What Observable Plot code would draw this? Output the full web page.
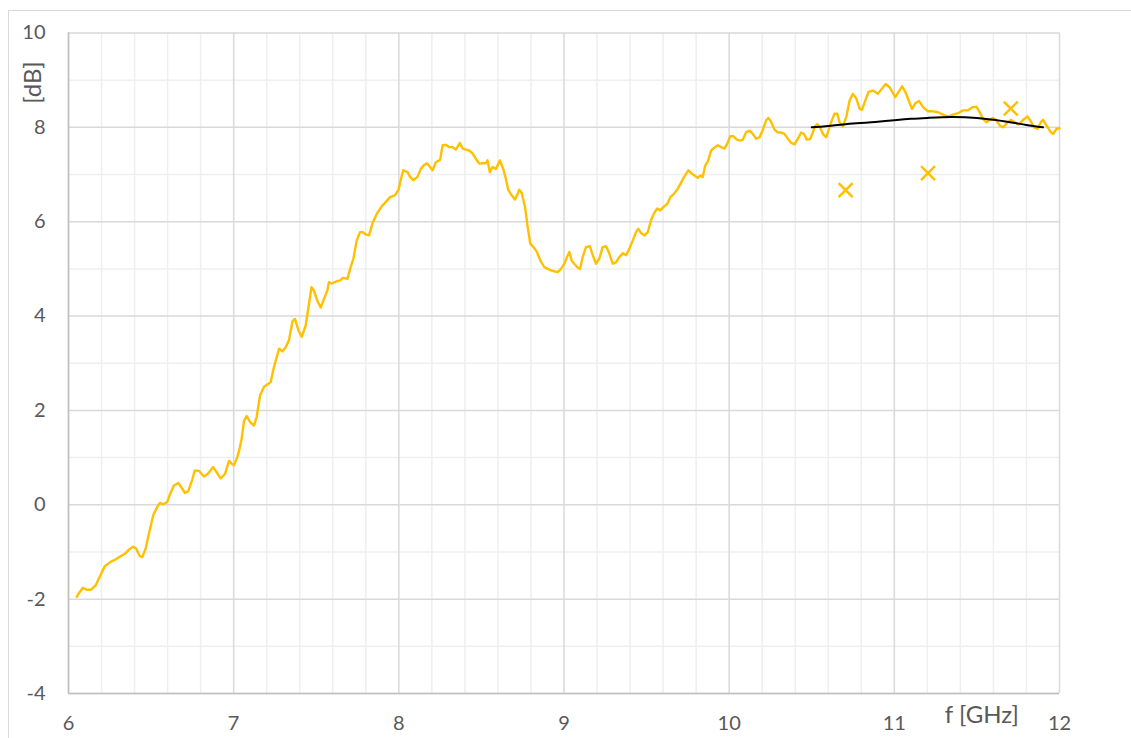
<!DOCTYPE html>
<html>
<head>
<meta charset="utf-8">
<script src="https://cdn.jsdelivr.net/npm/d3@7"></script>
<script src="https://cdn.jsdelivr.net/npm/@observablehq/plot@0.6"></script>
<style>
  html, body { margin: 0; padding: 0; background: #fff; }
  #wrap { position: relative; width: 1131px; height: 738px; overflow: hidden; background: #fff; }
  #frame { position: absolute; left: 8px; top: 10px; width: 1200px; height: 800px; border: 1px solid #d9d9d9; box-sizing: border-box; }
  #chart { position: absolute; left: 0; top: 0; }
</style>
</head>
<body>
<div id="wrap"><div id="frame"></div><div id="chart"></div></div>
<script>
// Measured gain [dB] versus frequency [GHz]
const freq = [
  6.050, 6.062, 6.087, 6.109, 6.137, 6.164, 6.194, 6.220, 6.255, 6.285,
  6.315, 6.345, 6.366, 6.390, 6.410, 6.432, 6.447, 6.467, 6.487, 6.513,
  6.537, 6.553, 6.574, 6.598, 6.612, 6.638, 6.665, 6.689, 6.705, 6.725,
  6.749, 6.765, 6.789, 6.820, 6.847, 6.875, 6.895, 6.921, 6.947, 6.972,
  6.988, 7.002, 7.022, 7.036, 7.048, 7.063, 7.079, 7.100, 7.123, 7.139,
  7.160, 7.184, 7.204, 7.224, 7.244, 7.261, 7.275, 7.295, 7.315, 7.335,
  7.356, 7.371, 7.392, 7.412, 7.436, 7.456, 7.471, 7.486, 7.506, 7.527,
  7.551, 7.567, 7.577, 7.594, 7.612, 7.628, 7.648, 7.659, 7.679, 7.689,
  7.705, 7.725, 7.745, 7.765, 7.780, 7.800, 7.820, 7.840, 7.867, 7.891,
  7.921, 7.947, 7.976, 7.998, 8.012, 8.026, 8.053, 8.068, 8.087, 8.113,
  8.133, 8.150, 8.170, 8.184, 8.204, 8.224, 8.250, 8.265, 8.285, 8.305,
  8.325, 8.345, 8.370, 8.386, 8.406, 8.426, 8.446, 8.467, 8.487, 8.507,
  8.527, 8.537, 8.551, 8.567, 8.588, 8.612, 8.632, 8.648, 8.662, 8.683,
  8.703, 8.719, 8.729, 8.744, 8.764, 8.780, 8.796, 8.816, 8.836, 8.856,
  8.880, 8.901, 8.921, 8.941, 8.962, 8.982, 9.002, 9.018, 9.032, 9.046,
  9.062, 9.079, 9.097, 9.113, 9.133, 9.157, 9.174, 9.194, 9.214, 9.234,
  9.255, 9.275, 9.295, 9.315, 9.335, 9.356, 9.376, 9.396, 9.416, 9.436,
  9.450, 9.467, 9.487, 9.507, 9.527, 9.544, 9.564, 9.584, 9.604, 9.624,
  9.644, 9.665, 9.689, 9.709, 9.729, 9.753, 9.770, 9.790, 9.810, 9.826,
  9.840, 9.855, 9.871, 9.891, 9.911, 9.931, 9.952, 9.972, 9.988, 10.006,
  10.026, 10.047, 10.068, 10.083, 10.103, 10.123, 10.143, 10.164, 10.184, 10.204,
  10.224, 10.238, 10.255, 10.275, 10.295, 10.315, 10.335, 10.355, 10.376, 10.396,
  10.416, 10.436, 10.453, 10.470, 10.490, 10.505, 10.518, 10.533, 10.553, 10.570,
  10.588, 10.614, 10.638, 10.655, 10.668, 10.689, 10.709, 10.729, 10.749, 10.770,
  10.790, 10.804, 10.820, 10.844, 10.870, 10.900, 10.921, 10.947, 10.971, 11.006,
  11.026, 11.047, 11.067, 11.087, 11.107, 11.127, 11.149, 11.174, 11.204, 11.234,
  11.265, 11.295, 11.325, 11.355, 11.386, 11.416, 11.446, 11.476, 11.497, 11.517,
  11.537, 11.557, 11.577, 11.598, 11.618, 11.638, 11.658, 11.679, 11.705, 11.729,
  11.753, 11.780, 11.806, 11.826, 11.846, 11.867, 11.887, 11.901, 11.921, 11.947,
  11.961, 11.982, 12.000
];
const gain = [
  -1.95, -1.88, -1.76, -1.80, -1.80, -1.71, -1.49, -1.30, -1.21, -1.16,
  -1.09, -1.03, -0.95, -0.89, -0.93, -1.09, -1.11, -0.93, -0.61, -0.22,
  -0.05, 0.04, 0.01, 0.06, 0.20, 0.41, 0.46, 0.34, 0.25, 0.29,
  0.53, 0.73, 0.72, 0.60, 0.67, 0.80, 0.70, 0.56, 0.65, 0.93,
  0.87, 0.84, 1.01, 1.19, 1.40, 1.78, 1.88, 1.75, 1.68, 1.86,
  2.32, 2.50, 2.55, 2.60, 2.92, 3.13, 3.31, 3.25, 3.34, 3.49,
  3.89, 3.94, 3.70, 3.56, 3.80, 4.26, 4.61, 4.54, 4.33, 4.18,
  4.40, 4.54, 4.72, 4.69, 4.72, 4.74, 4.76, 4.81, 4.80, 4.79,
  5.00, 5.22, 5.60, 5.78, 5.78, 5.73, 5.71, 5.96, 6.17, 6.30,
  6.42, 6.52, 6.56, 6.68, 6.89, 7.09, 7.05, 6.95, 6.88, 6.95,
  7.12, 7.19, 7.24, 7.18, 7.09, 7.26, 7.31, 7.62, 7.63, 7.58,
  7.58, 7.53, 7.67, 7.55, 7.53, 7.51, 7.45, 7.33, 7.23, 7.24,
  7.24, 7.30, 7.05, 7.16, 7.12, 7.30, 7.12, 6.91, 6.68, 6.56,
  6.47, 6.59, 6.68, 6.61, 6.31, 5.89, 5.53, 5.46, 5.36, 5.18,
  5.04, 5.00, 4.97, 4.95, 4.93, 5.00, 5.11, 5.25, 5.36, 5.18,
  5.11, 5.04, 5.00, 5.25, 5.46, 5.48, 5.29, 5.11, 5.22, 5.46,
  5.48, 5.32, 5.11, 5.14, 5.25, 5.33, 5.29, 5.43, 5.60, 5.78,
  5.85, 5.76, 5.71, 5.78, 6.03, 6.17, 6.28, 6.24, 6.32, 6.37,
  6.52, 6.59, 6.70, 6.83, 6.96, 7.09, 7.03, 6.98, 6.93, 6.98,
  6.95, 7.19, 7.28, 7.51, 7.57, 7.62, 7.58, 7.55, 7.65, 7.81,
  7.81, 7.74, 7.72, 7.74, 7.90, 7.93, 7.86, 7.76, 7.79, 7.95,
  8.15, 8.20, 8.11, 7.95, 7.89, 7.89, 7.86, 7.76, 7.67, 7.64,
  7.76, 7.89, 7.86, 7.74, 7.75, 7.88, 8.01, 8.07, 7.97, 7.85,
  7.79, 8.08, 8.29, 8.29, 8.11, 8.02, 8.22, 8.57, 8.71, 8.61,
  8.39, 8.37, 8.53, 8.75, 8.78, 8.71, 8.80, 8.92, 8.85, 8.64,
  8.75, 8.87, 8.75, 8.57, 8.39, 8.51, 8.56, 8.43, 8.34, 8.34,
  8.32, 8.27, 8.23, 8.27, 8.30, 8.36, 8.36, 8.43, 8.44, 8.32,
  8.18, 8.11, 8.16, 8.20, 8.15, 8.04, 8.00, 8.08, 8.16, 8.11,
  8.06, 8.16, 8.23, 8.13, 8.00, 7.97, 8.11, 8.16, 8.04, 7.90,
  7.86, 7.97, 7.98
];

// Smooth trend over the upper band
const trendFreq = [10.5, 10.6, 10.75, 10.9, 11.0, 11.1, 11.2, 11.35, 11.5, 11.6, 11.7, 11.8, 11.9];
const trendGain = [8.00, 8.03, 8.08, 8.12, 8.15, 8.18, 8.20, 8.22, 8.20, 8.16, 8.11, 8.05, 8.00];

// Single-point reference values
const pointFreq = [10.705, 11.204, 11.705];
const pointGain = [6.67, 7.03, 8.40];

// Axis ticks and grid
const xTicks = [6, 7, 8, 9, 10, 11, 12];
const yTicks = [-4, -2, 0, 2, 4, 6, 8, 10];
const xMinor = d3.range(6, 12.0001, 0.2).map(v => +v.toFixed(1)).filter(v => !xTicks.includes(v));
const yMinor = [-3, -1, 1, 3, 5, 7, 9];

const curve = freq.map((f, i) => ({f, g: gain[i]}));
const trend = trendFreq.map((f, i) => ({f, g: trendGain[i]}));
const points = pointFreq.map((f, i) => ({f, g: pointGain[i]}));

const gold = "#FFC000";
const textColor = "#595959";
const fs = 20;       // tick labels
const titleFs = 24;  // axis titles

const chart = Plot.plot({
  width: 1131,
  height: 738,
  marginLeft: 68,
  marginRight: 72,
  marginTop: 32.5,
  marginBottom: 45,
  style: {fontFamily: "Lato, 'Open Sans', sans-serif", fontSize: `${fs}px`, color: textColor, background: "transparent"},
  x: {domain: [6, 12]},
  y: {domain: [-4, 10]},
  marks: [
    Plot.ruleX(xMinor, {stroke: "#efefef", strokeWidth: 1.5}),
    Plot.ruleY(yMinor, {stroke: "#efefef", strokeWidth: 1.5}),
    Plot.ruleX(xTicks, {stroke: "#d9d9d9", strokeWidth: 1.5}),
    Plot.ruleY(yTicks, {stroke: "#d9d9d9", strokeWidth: 1.5}),
    Plot.ruleX([6], {stroke: "#bfbfbf", strokeWidth: 1.5}),
    Plot.ruleY([-4], {stroke: "#bfbfbf", strokeWidth: 1.5}),
    Plot.axisX({ticks: xTicks, tickFormat: d => String(d), tickSize: 0, tickPadding: 22, label: null, fill: textColor, fontSize: fs}),
    Plot.axisY({ticks: yTicks, tickFormat: d => String(d), tickSize: 0, tickPadding: 23, label: null, fill: textColor, fontSize: fs}),
    Plot.text(["f [GHz]"], {x: 11.53, frameAnchor: "bottom", dy: 29, textAnchor: "middle", fill: textColor, fontSize: titleFs}),
    Plot.text(["[dB]"], {y: 8.95, frameAnchor: "left", dx: -35, rotate: -90, textAnchor: "middle", fill: textColor, fontSize: titleFs}),
    Plot.line(curve, {x: "f", y: "g", stroke: gold, strokeWidth: 2.4, strokeLinejoin: "round"}),
    Plot.line(trend, {x: "f", y: "g", stroke: "#000", strokeWidth: 2, curve: "natural"}),
    Plot.dot(points, {x: "f", y: "g", symbol: "times", r: 6.4, stroke: gold, strokeWidth: 2.5})
  ]
});

document.getElementById("chart").appendChild(chart);
</script>
</body>
</html>
